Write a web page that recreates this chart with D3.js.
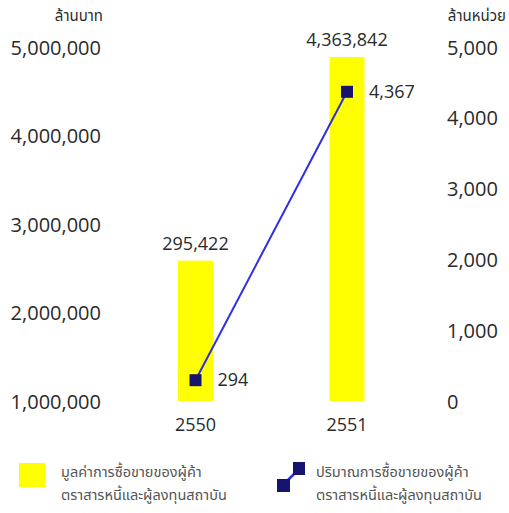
<!DOCTYPE html>
<html><head><meta charset="utf-8">
<script src="https://cdn.jsdelivr.net/npm/d3@7"></script>
<style>
body{margin:0;background:#fff;}
text{font-family:"Open Sans","Noto Sans",sans-serif;fill:#2a2a2a;}
.th{font-family:"Noto Sans Thai","Noto Sans","DejaVu Sans",sans-serif;}
</style></head>
<body><svg id="c" width="509" height="513"></svg>
<script>
const years = ["2550", "2551"];
// bar heights as drawn against the left axis
const barValues = [2586000, 4887000];
// bar value labels as printed
const barLabels = [295422, 4363842];
// line series (right axis, million units)
const unitValues = [294, 4367];
const leftTicks = [1000000, 2000000, 3000000, 4000000, 5000000];
const rightTicks = [0, 1000, 2000, 3000, 4000, 5000];
const leftUnit = "ล้านบาท";
const rightUnit = "ล้านหน่วย";
const legendBar = ["มูลค่าการซื้อขายของผู้ค้า", "ตราสารหนี้และผู้ลงทุนสถาบัน"];
const legendLine = ["ปริมาณการซื้อขายของผู้ค้า", "ตราสารหนี้และผู้ลงทุนสถาบัน"];

const svg = d3.select("#c");
const x = d3.scalePoint().domain(years).range([195.5, 347]);
const barW = 35;
const yL = d3.scaleLinear().domain([1000000, 5000000]).range([401, 47]);
const yR = d3.scaleLinear().domain([0, 5000]).range([401, 47]);
const fmt = d3.format(",");

// left axis
const la = svg.append("g").attr("transform","translate(101,0)")
  .call(d3.axisLeft(yL).tickValues(leftTicks).tickFormat(fmt).tickSize(0).tickPadding(0));
la.select(".domain").remove();
la.selectAll("text").style("font-size","20px").attr("fill","#2a2a2a").attr("dy","0.35em");

// right axis
const ra = svg.append("g").attr("transform","translate(447,0)")
  .call(d3.axisRight(yR).tickValues(rightTicks).tickFormat(fmt).tickSize(0).tickPadding(0));
ra.select(".domain").remove();
ra.selectAll("text").style("font-size","20px").attr("fill","#2a2a2a").attr("dy","0.35em");

// units
svg.append("text").attr("class","th").attr("x",103).attr("y",21).attr("text-anchor","end")
  .style("font-size","15px").text(leftUnit);
svg.append("text").attr("class","th").attr("x",506).attr("y",21).attr("text-anchor","end")
  .style("font-size","15px").text(rightUnit);

// bars
svg.selectAll("rect.bar").data(years).join("rect").attr("class","bar")
  .attr("x", d=>x(d)-barW/2).attr("width", barW)
  .attr("y", (d,i)=>yL(barValues[i]))
  .attr("height", (d,i)=>yL(1000000) - yL(barValues[i]))
  .attr("fill","#ffff00");

// bar labels
svg.selectAll("text.bl").data(years).join("text").attr("class","bl")
  .attr("x", d=>x(d))
  .attr("y", (d,i)=>yL(barValues[i]) - 11)
  .attr("text-anchor","middle").style("font-size","18px").text((d,i)=>fmt(barLabels[i]));

// x labels
svg.selectAll("text.xl").data(years).join("text").attr("class","xl")
  .attr("x", d=>x(d)).attr("y", 431)
  .attr("text-anchor","middle").style("font-size","18px").text(d=>d);

// line
svg.append("path").datum(years)
  .attr("d", d3.line().x(d=>x(d)).y((d,i)=>yR(unitValues[i])))
  .attr("fill","none").attr("stroke","#2f2fe0").attr("stroke-width",2);
svg.selectAll("rect.mk").data(years).join("rect").attr("class","mk")
  .attr("x", d=>x(d)-6).attr("y",(d,i)=>yR(unitValues[i])-6)
  .attr("width",12).attr("height",12).attr("fill","#15156e");
svg.selectAll("text.ml").data(years).join("text").attr("class","ml")
  .attr("x", d=>x(d)+22).attr("y",(d,i)=>yR(unitValues[i]))
  .attr("dy","0.35em").style("font-size","18px").text((d,i)=>fmt(unitValues[i]));

// legend
svg.append("rect").attr("x",19).attr("y",463).attr("width",26).attr("height",24).attr("fill","#ffff00");
svg.append("text").attr("class","th").attr("x",61).attr("y",477).style("font-size","14.5px").style("fill","#555").text(legendBar[0]);
svg.append("text").attr("class","th").attr("x",61).attr("y",500).style("font-size","14.5px").style("fill","#555").text(legendBar[1]);
svg.append("line").attr("x1",283).attr("y1",485).attr("x2",299).attr("y2",469).attr("stroke","#2f2fe0").attr("stroke-width",2.5);
svg.append("rect").attr("x",277).attr("y",479).attr("width",13).attr("height",13).attr("fill","#15156e");
svg.append("rect").attr("x",293).attr("y",462).attr("width",12).attr("height",13).attr("fill","#15156e");
svg.append("text").attr("class","th").attr("x",316).attr("y",477).style("font-size","14.5px").style("fill","#555").text(legendLine[0]);
svg.append("text").attr("class","th").attr("x",316).attr("y",500).style("font-size","14.5px").style("fill","#555").text(legendLine[1]);
</script></body></html>
